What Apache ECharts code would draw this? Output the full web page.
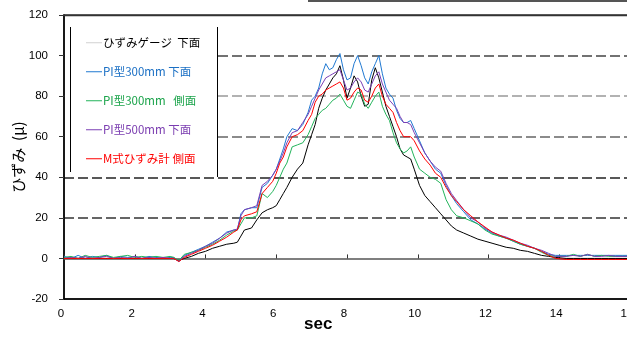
<!DOCTYPE html>
<html>
<head>
<meta charset="utf-8">
<script src="https://cdn.jsdelivr.net/npm/echarts@6/dist/echarts.min.js"></script>
<style>
  html, body { margin: 0; padding: 0; background: #fff; }
  #main { width: 627px; height: 341px; }
</style>
</head>
<body>
<div id="main"></div>
<script>
// time axis (sec)
const sec = [
  0, 0.2, 0.4, 0.6, 0.8, 1.0, 1.2, 1.4, 1.6, 1.8, 2.0, 2.2, 2.4, 2.6, 2.8, 3.0,
  3.1, 3.25, 3.4, 3.6, 3.8, 4.0, 4.2, 4.4, 4.6, 4.8,
  4.9, 5.0, 5.1, 5.3, 5.45, 5.6, 5.75, 5.9,
  6.0, 6.1, 6.2, 6.3, 6.45, 6.6, 6.75,
  6.9, 7.0, 7.1, 7.2, 7.3, 7.4, 7.5, 7.6, 7.7, 7.8, 7.9, 8.0, 8.1, 8.2, 8.3, 8.4,
  8.5, 8.6, 8.7, 8.8, 8.9, 9.0, 9.1, 9.2, 9.3, 9.4, 9.5, 9.6, 9.7, 9.8, 9.9,
  10.05, 10.2, 10.35, 10.5, 10.65, 10.8, 10.95, 11.1, 11.3, 11.5, 11.7, 11.9,
  12.1, 12.3, 12.5, 12.7, 12.9, 13.1, 13.3, 13.5, 13.7, 13.9,
  14.2, 14.4, 14.6, 14.8, 15.0, 15.2, 15.4, 15.6, 15.8, 16.0
];

const gauge = [
  0, 0, 0, 0, 0, 0, 0, 0, 0, 0, 0, 0, 0, 0, 0, 0,
  0, -1, 0, 1, 2.5, 3.5, 5, 6, 7, 7.5,
  8, 11, 14, 15, 19, 22.5, 24, 25,
  26, 29, 32, 35, 40, 44, 47,
  56, 61, 66, 74, 79, 83, 86, 89, 91, 95, 88, 79, 84, 90, 87,
  80, 75, 76, 88, 94, 89, 82, 75, 70, 65, 60, 54, 51, 50, 49, 44,
  36, 31, 28, 25, 22, 19, 16, 14, 12.5, 11, 9.5, 8.5,
  7.5, 6.5, 5.5, 5, 4, 3.5, 2.5, 1.5, 1, 0.5,
  0, 0, 0, 0, 0, 0, 0, 0, 0, 0
];

const pi300Bottom = [
  1, 0, 1.5, 0, 1, 0.5, 1.5, 0, 1, 0.5, 1, 0, 1, 0.5, 0, 0.5,
  0.5, -1.5, 1.5, 3, 4.5, 6, 8, 10, 13, 14,
  14, 22, 24, 25, 25, 35, 37, 41,
  44, 49, 54, 60, 64, 63, 66,
  72, 78, 80, 84, 91, 96, 93, 94, 98, 101, 93, 88, 89, 96, 100,
  95, 89, 86, 92, 96, 100, 91, 84, 81, 79, 73, 69, 67, 67, 68, 64,
  58, 52, 48, 44, 42, 36, 31, 27, 23, 19, 17, 14.5,
  12.5, 11, 10, 8.5, 7, 6, 5, 3.5, 2, 1.5,
  1.5, 1.5, 1.5, 1.5, 1.5, 1.5, 1.5, 1.5, 1.5, 1.5
];

const pi300Side = [
  0.5, 1, 0, 1.5, 0.5, 1, 1.5, 0.5, 1, 1.5, 0.5, 1, 0.5, 1, 0.5, 1,
  0.5, -1, 2, 3, 4, 5.5, 7, 9, 11.5, 13.5,
  14, 17, 20, 20, 21, 32, 30, 33,
  36, 40, 44, 47, 55, 56, 57,
  61, 65, 69, 71, 73, 74, 76, 78, 79, 81, 78, 75, 74, 78, 82,
  81, 76, 74, 77, 80, 82, 75, 71, 68, 62, 57, 54, 52, 53, 55, 50,
  44, 42, 40, 39, 37, 29, 24, 21, 20, 18.5, 17, 14,
  12, 11, 10, 8.5, 7, 6, 5, 3, 1.5, 1,
  1, 2, 1, 2, 1, 1.5, 1, 1, 1, 1
];

const pi500Bottom = [
  0, 0.5, 0, 1, 0, 0.5, 1, 0, 0.5, 0, 1, 0, 0.5, 0, 0.5, 0,
  0, -1.5, 1, 2.5, 4, 6, 7.5, 10, 12.5, 14,
  14.5, 21, 24, 25, 26, 36, 38, 41,
  44, 48, 52, 57, 62, 63, 67,
  71, 75, 79, 83, 86, 89, 90, 91, 92, 93, 88, 83, 84, 87, 89,
  87, 83, 82, 86, 90, 92, 86, 82, 78, 76, 74, 70, 67, 67, 66, 62,
  57, 52, 48, 45, 43, 37, 32, 28.5, 24, 20, 18, 15,
  13, 11.5, 10.5, 9, 7.5, 6.5, 5, 4, 2.5, 1,
  1, 1.5, 1, 2, 1, 1, 1.5, 1, 1, 1
];

const mSide = [
  0, 0, 0, 0, 0, 0, 0, 0, 0, 0, 0, 0, 0, 0, 0, 0,
  0, -1.5, 0.5, 2, 3.5, 5, 6.5, 8.5, 10.5, 13,
  14, 19, 21, 22, 23, 32, 35, 38,
  42, 47, 50, 55, 60, 61, 63,
  68, 71, 77, 80, 81, 83, 84, 85, 86, 87, 84, 78, 79, 82, 84,
  83, 78, 77, 80, 84, 86, 80, 76, 74, 72, 67, 63, 60, 60, 60, 58,
  53, 49, 46, 42, 40, 35, 31, 28, 24, 21, 18, 15.5,
  13, 11.5, 10, 9, 7.5, 6, 5, 3.5, 1.5, 0,
  -0.5, -0.5, -0.5, -0.5, -0.5, -0.5, -0.5, -0.5, -0.5, -0.5
];

const names = ['ひずみゲージ  下面', 'PI型300mm 下面', 'PI型300mm   側面', 'PI型500mm 下面', 'M式ひずみ計 側面'];
const lineColors = ['#000000', '#1f78d1', '#22b35a', '#7b3fb5', '#ff0000'];
const textColors = ['#000000', '#1a6fc4', '#1aa34a', '#7a3cb0', '#ff0000'];
const values = [gauge, pi300Bottom, pi300Side, pi500Bottom, mSide];

const chartDom = document.getElementById('main');
const myChart = echarts.init(chartDom, undefined, { renderer: 'canvas' });

const series = values.map((v, i) => ({
  name: names[i],
  type: 'line',
  xAxisIndex: 0,
  symbol: 'none',
  lineStyle: { color: lineColors[i], width: 1 },
  itemStyle: { color: lineColors[i] },
  data: sec.map((t, k) => [t, v[k]]),
  z: 2 + i
}));

const option = {
  animation: false,
  backgroundColor: '#fff',
  grid: {
    left: 64, top: 15, width: 566, height: 284,
    outerBoundsMode: 'none', containLabel: false,
    show: true, borderColor: '#333', borderWidth: 1.5, backgroundColor: 'transparent'
  },
  legend: {
    orient: 'vertical',
    left: 81,
    top: 32,
    itemGap: 17.5,
    itemWidth: 16,
    itemHeight: 1,
    icon: 'rect',
    z: 10,
    textStyle: { fontFamily: 'Noto Sans CJK JP', fontSize: 11.5, padding: [0, 0, 0, -4] },
    data: names.map((n, i) => ({
      name: n,
      itemStyle: { color: i === 0 ? '#d0d0d0' : lineColors[i] },
      textStyle: { color: textColors[i] }
    }))
  },
  xAxis: [
    {
      type: 'value', min: 0, max: 16, interval: 2, position: 'bottom',
      axisLine: { onZero: false, lineStyle: { color: '#000', width: 1.5 } },
      axisTick: { show: false },
      axisLabel: { color: '#000', fontFamily: 'Liberation Sans', fontSize: 11.5, margin: 9, padding: [0, 6, 0, 0] },
      splitLine: { show: false }
    },
    {
      type: 'value', min: 0, max: 16, interval: 2, position: 'bottom',
      axisLine: { onZero: true, onZeroAxisIndex: 0, lineStyle: { color: '#555', width: 1.5 } },
      axisTick: { inside: true, length: 4, lineStyle: { color: '#333' } },
      axisLabel: { show: false },
      splitLine: { show: false }
    }
  ],
  yAxis: {
    type: 'value', min: -20, max: 120, interval: 20,
    name: 'ひずみ  (μ)',
    nameLocation: 'middle',
    nameGap: 38,
    nameMoveOverlap: false,
    nameTextStyle: { fontFamily: 'Noto Sans CJK JP', fontSize: 15, color: '#000' },
    axisLine: { show: true, lineStyle: { color: '#000', width: 1.5 } },
    axisTick: { show: true, length: 5, lineStyle: { color: '#333' } },
    axisLabel: { color: '#000', fontFamily: 'Liberation Sans', fontSize: 11.5, margin: 16 },
    splitLine: {
      show: true,
      lineStyle: {
        type: [10, 4],
        width: 1.5,
        color: ['rgba(0,0,0,0)', 'rgba(0,0,0,0)', '#333', '#222', '#666', '#999', '#444', 'rgba(0,0,0,0)']
      }
    }
  },
  graphic: [
    { type: 'rect', z: 5, shape: { x: 65, y: 17, width: 152, height: 159 }, style: { fill: '#fff' } },
    { type: 'line', z: 6, shape: { x1: 70.5, y1: 27, x2: 70.5, y2: 172 }, style: { stroke: '#000', lineWidth: 1 } },
    { type: 'line', z: 6, shape: { x1: 217.5, y1: 27, x2: 217.5, y2: 177 }, style: { stroke: '#000', lineWidth: 1 } },
    { type: 'line', z: 6, shape: { x1: 64, y1: 15.5, x2: 627, y2: 15.5 }, style: { stroke: '#333', lineWidth: 1.5 } },
    { type: 'rect', z: 6, shape: { x: 308, y: 0, width: 319, height: 2 }, style: { fill: '#555' } },
    {
      type: 'text', z: 6, left: 304, top: 316,
      style: { text: 'sec', fontFamily: 'Liberation Sans', fontSize: 17, fontWeight: 'bold', fill: '#000' }
    }
  ],
  series: series
};

myChart.setOption(option);
window.addEventListener('resize', () => {
  myChart.resize();
});
</script>
</body>
</html>
